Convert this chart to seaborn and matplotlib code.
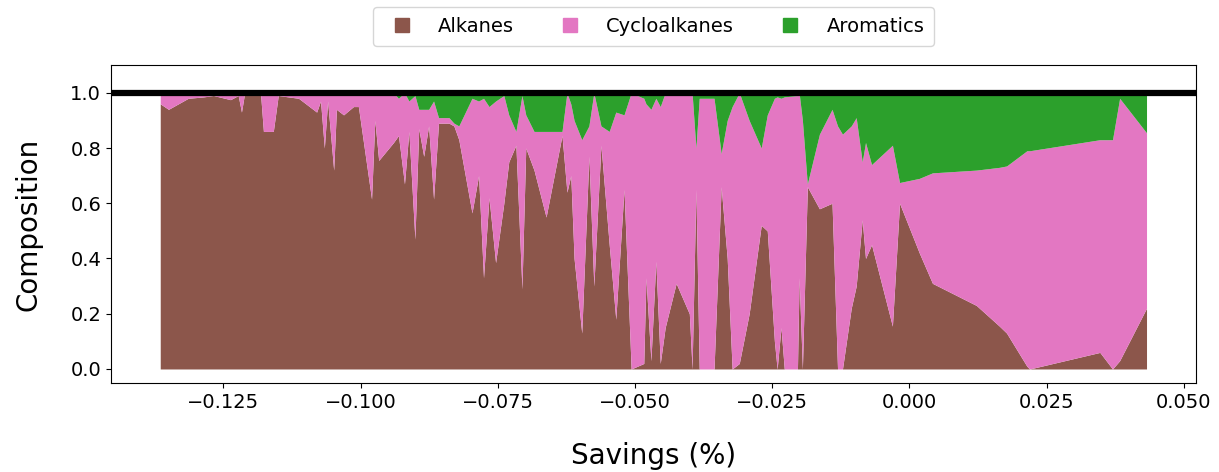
import matplotlib
matplotlib.use("Agg")
import matplotlib.pyplot as plt
from matplotlib.lines import Line2D
import seaborn as sns

sns.set_style("ticks", rc={
    "axes.edgecolor": "black",
    "text.color": "black",
    "axes.labelcolor": "black",
    "xtick.color": "black",
    "ytick.color": "black",
})
plt.rcParams["font.family"] = ["DejaVu Sans"]

# ── Data ─────────────────────────────────────────────────────────────────────
savings = [
    -0.1365, -0.1350, -0.1314, -0.1286, -0.1268, -0.1237, -0.1223, -0.1217,
    -0.1212, -0.1182, -0.1177, -0.1159, -0.1150, -0.1113, -0.1080, -0.1073,
    -0.1066, -0.1060, -0.1049, -0.1044, -0.1031, -0.1013, -0.1004, -0.0980,
    -0.0974, -0.0967, -0.0940, -0.0931, -0.0920, -0.0912, -0.0901, -0.0894,
    -0.0885, -0.0876, -0.0867, -0.0858, -0.0839, -0.0830, -0.0821, -0.0797,
    -0.0785, -0.0776, -0.0766, -0.0754, -0.0739, -0.0730, -0.0717, -0.0706,
    -0.0699, -0.0684, -0.0662, -0.0633, -0.0624, -0.0617, -0.0611, -0.0597,
    -0.0584, -0.0575, -0.0562, -0.0547, -0.0535, -0.0520, -0.0507, -0.0484,
    -0.0480, -0.0471, -0.0462, -0.0454, -0.0445, -0.0425, -0.0401, -0.0396,
    -0.0389, -0.0383, -0.0356, -0.0343, -0.0332, -0.0323, -0.0310, -0.0292,
    -0.0270, -0.0259, -0.0246, -0.0241, -0.0234, -0.0228, -0.0204, -0.0201,
    -0.0195, -0.0186, -0.0164, -0.0141, -0.0131, -0.0122, -0.0106, -0.0097,
    -0.0086, -0.0080, -0.0069, -0.0031, -0.0018, 0.0018, 0.0042, 0.0122,
    0.0164, 0.0177, 0.0214, 0.0219, 0.0347, 0.0370, 0.0383, 0.0432,
]
alkanes = [
    0.96, 0.94, 0.98, 0.985, 0.99, 0.975, 0.99, 0.93,
    0.99, 0.99, 0.86, 0.86, 0.99, 0.98, 0.93, 0.97,
    0.80, 0.97, 0.72, 0.94, 0.92, 0.95, 0.95, 0.615,
    0.90, 0.755, 0.82, 0.845, 0.67, 0.86, 0.47, 0.87,
    0.77, 0.88, 0.615, 0.89, 0.89, 0.88, 0.83, 0.565,
    0.70, 0.33, 0.62, 0.385, 0.60, 0.75, 0.81, 0.29,
    0.80, 0.72, 0.55, 0.845, 0.64, 0.70, 0.40, 0.13,
    0.77, 0.30, 0.81, 0.45, 0.18, 0.65, 0.00, 0.02,
    0.33, 0.03, 0.39, 0.02, 0.15, 0.31, 0.20, 0.00,
    0.65, 0.00, 0.00, 0.66, 0.40, 0.00, 0.02, 0.20,
    0.52, 0.50, 0.10, 0.00, 0.15, 0.00, 0.00, 0.33,
    0.00, 0.66, 0.58, 0.60, 0.00, 0.00, 0.22, 0.30,
    0.54, 0.40, 0.45, 0.155, 0.60, 0.42, 0.31, 0.23,
    0.155, 0.13, 0.01, 0.00, 0.06, 0.00, 0.03, 0.22,
]
cycloalkanes = [
    0.04, 0.06, 0.02, 0.015, 0.01, 0.025, 0.01, 0.07,
    0.01, 0.01, 0.14, 0.14, 0.01, 0.02, 0.07, 0.03,
    0.20, 0.03, 0.28, 0.06, 0.08, 0.04, 0.05, 0.385,
    0.10, 0.235, 0.18, 0.135, 0.33, 0.11, 0.52, 0.07,
    0.17, 0.06, 0.355, 0.02, 0.02, 0.01, 0.05, 0.415,
    0.27, 0.65, 0.33, 0.585, 0.39, 0.17, 0.05, 0.70,
    0.12, 0.14, 0.31, 0.015, 0.36, 0.26, 0.50, 0.70,
    0.11, 0.70, 0.07, 0.41, 0.75, 0.27, 1.00, 0.96,
    0.63, 0.91, 0.59, 0.93, 0.85, 0.69, 0.80, 1.00,
    0.15, 0.98, 0.98, 0.12, 0.50, 0.95, 0.98, 0.70,
    0.28, 0.42, 0.88, 0.985, 0.83, 0.985, 0.99, 0.67,
    0.90, 0.01, 0.27, 0.34, 0.88, 0.85, 0.66, 0.61,
    0.21, 0.42, 0.29, 0.655, 0.075, 0.27, 0.40, 0.49,
    0.575, 0.605, 0.78, 0.79, 0.77, 0.83, 0.95, 0.635,
]
aromatics = [
    0.00, 0.00, 0.00, 0.00, 0.00, 0.00, 0.00, 0.00,
    0.00, 0.00, 0.00, 0.00, 0.00, 0.00, 0.00, 0.00,
    0.00, 0.00, 0.00, 0.00, 0.00, 0.01, 0.00, 0.00,
    0.00, 0.01, 0.00, 0.02, 0.00, 0.03, 0.01, 0.06,
    0.06, 0.06, 0.03, 0.09, 0.09, 0.11, 0.12, 0.02,
    0.03, 0.02, 0.05, 0.03, 0.01, 0.08, 0.14, 0.01,
    0.08, 0.14, 0.14, 0.14, 0.00, 0.04, 0.10, 0.17,
    0.12, 0.00, 0.12, 0.14, 0.07, 0.08, 0.00, 0.02,
    0.04, 0.06, 0.02, 0.05, 0.00, 0.00, 0.00, 0.00,
    0.20, 0.02, 0.02, 0.22, 0.10, 0.05, 0.00, 0.10,
    0.20, 0.08, 0.02, 0.015, 0.02, 0.015, 0.01, 0.00,
    0.10, 0.33, 0.15, 0.06, 0.12, 0.15, 0.12, 0.09,
    0.25, 0.18, 0.26, 0.19, 0.325, 0.31, 0.29, 0.28,
    0.27, 0.265, 0.21, 0.21, 0.17, 0.17, 0.02, 0.145,
]
labels = ["Alkanes", "Cycloalkanes", "Aromatics"]

tab = sns.color_palette("tab10")
colors = [tab[5], tab[6], tab[2]]

# ── Stacked composition chart ───────────────────────────────────────────────
fig = plt.figure(figsize=(12.19, 4.72), dpi=100)
ax = fig.add_axes([0.091, 0.189, 0.890, 0.673])

ax.stackplot(savings, alkanes, cycloalkanes, aromatics, colors=colors,
             labels=labels, linewidth=0)
ax.axhline(1.0, color="black", linewidth=4.5)

ax.set_ylim(-0.05, 1.1)
ax.set_xlabel("Savings (%)", fontsize=20, labelpad=22)
ax.set_ylabel("Composition", fontsize=20, labelpad=20)
ax.tick_params(labelsize=14)

handles = [Line2D([], [], marker="s", linestyle="", color=c, markersize=10) for c in colors]
ax.legend(handles, labels, loc="lower center", bbox_to_anchor=(0.5, 1.03), ncol=3,
          fontsize=14, frameon=True, columnspacing=1.9, handletextpad=0.85,
          borderpad=0.5)

plt.savefig("out.png", dpi=100)
plt.close()
print("Saved out.png")
